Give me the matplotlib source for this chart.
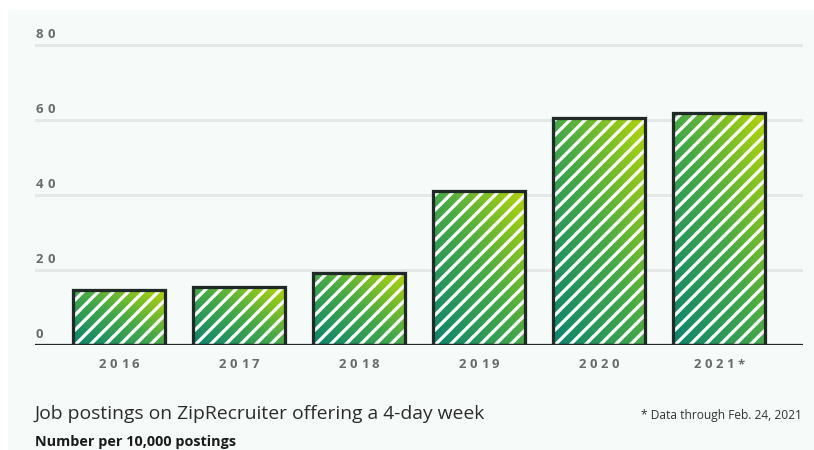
import numpy as np
import matplotlib.pyplot as plt
from matplotlib.patches import Rectangle
from matplotlib.colors import LinearSegmentedColormap

# ZipRecruiter postings offering a 4-day week, per 10,000 postings
years = ['2016', '2017', '2018', '2019', '2020', '2021*']
postings = [14.5, 15.5, 19, 41, 60.5, 62]
y_ticks = [0, 20, 40, 60, 80]

title = 'Job postings on ZipRecruiter offering a 4-day week'
subtitle = 'Number per 10,000 postings'
note = '* Data through Feb. 24, 2021'

bg = '#f6fbf9'
outline = '#1f2a26'
tick_grey = '#676c6a'
grid_grey = '#e4e9e7'
green = LinearSegmentedColormap.from_list('green', ['#0a846f', '#45a947', '#b2d604'])

plt.rcParams['font.family'] = ['Open Sans', 'DejaVu Sans']
plt.rcParams['hatch.linewidth'] = 2.6

DPI = 90
W, H = 814, 450


def spaced_text(ax, x, y, s, step, ha='center', dy=0, **kw):
    '''Draws s one character at a time so the letters get extra tracking.'''
    n = len(s)
    if ha == 'center':
        start = -(n - 1) * step / 2
        coords = 'data'
    else:
        start = 4.5
        coords = ax.get_yaxis_transform()
    for i, ch in enumerate(s):
        ax.annotate(ch, (x, y), xycoords=coords,
                    xytext=(start + i * step, dy), textcoords='offset pixels',
                    ha='center', va='center', annotation_clip=False, **kw)


fig = plt.figure(figsize=(W / DPI, H / DPI), dpi=DPI, facecolor='white')
fig.patches.append(Rectangle((8 / W, 0), 1, 440 / H, transform=fig.transFigure,
                             facecolor=bg, edgecolor='none', zorder=-10))

px_per_unit = 3.74
ax = fig.add_axes([35 / W, 105.5 / H, 768 / W, 82 * px_per_unit / H])
ax.set_facecolor('none')

x = np.arange(len(years))
width = 0.76

# gradient fill, running from the lower left to the upper right of each bar
u, v = np.meshgrid(np.linspace(0, 1, 64), np.linspace(0, 1, 128))
ramp = (u + v) / 2
for xi, val in zip(x, postings):
    clip = Rectangle((xi - width / 2, 0), width, val, facecolor='none', edgecolor='none')
    ax.add_patch(clip)
    img = ax.imshow(ramp, cmap=green, origin='lower', aspect='auto', zorder=2,
                    extent=(xi - width / 2, xi + width / 2, 0, val))
    img.set_clip_path(clip)

# white diagonal stripes, then the dark outline on top
ax.bar(x, postings, width, facecolor='none', edgecolor='white', hatch='//', linewidth=0, zorder=3)
ax.bar(x, postings, width, facecolor='none', edgecolor=outline, linewidth=2.6, zorder=4)

for t in y_ticks[1:]:
    ax.axhline(t, color=grid_grey, linewidth=2.4, zorder=0)
ax.axhline(0, color=outline, linewidth=2.6, zorder=5)

ax.set_xlim(-0.7, 5.7)
ax.set_ylim(0, 82)
ax.axis('off')

for t in y_ticks:
    spaced_text(ax, 0.0, t, str(t), 12, ha='left', dy=10.5,
                color=tick_grey, fontsize=10.5, fontweight='bold')

for xi, label in zip(x, years):
    spaced_text(ax, xi, 0, label, 11, dy=-20,
                color=tick_grey, fontsize=10.5, fontweight='bold')

fig.text(35 / W, 1 - 419 / H, title, ha='left', va='baseline',
         fontsize=15.4, color='#2b2b2b')
fig.text(35 / W, 1 - 446 / H, subtitle, ha='left', va='baseline',
         fontsize=11.5, fontweight='bold', color='#1b1b1b')
fig.text(802 / W, 1 - 419 / H, note, ha='right', va='baseline',
         fontsize=9.6, color='#333333')

fig.savefig('out.png', dpi=DPI, facecolor=fig.get_facecolor())
